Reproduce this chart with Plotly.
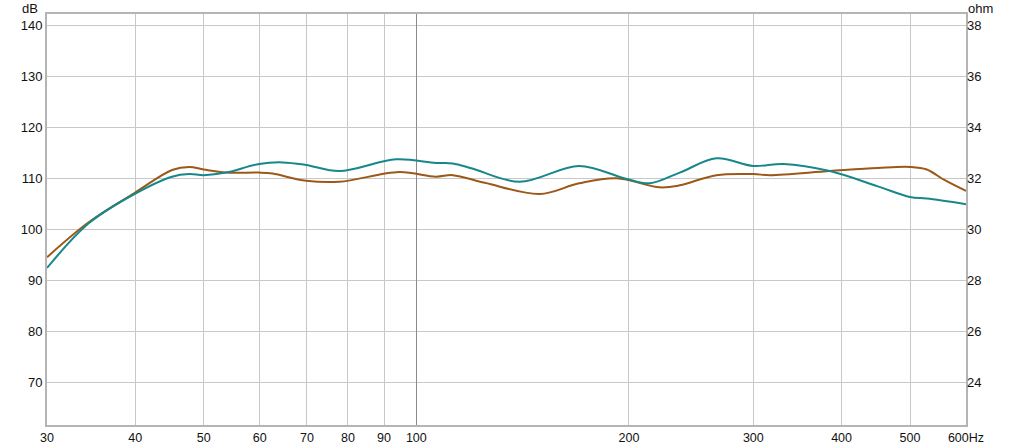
import plotly.graph_objects as go

# ---- data ----
freq_teal = [30, 34.4, 39.9, 45.1, 47.7, 50, 53.8, 59.9, 64.7, 69.8, 77.8, 93.6,
             106.6, 112.6, 120, 140, 170, 198, 214, 236, 266, 300, 331, 385, 450,
             500, 528, 600]
spl_teal = [92.4, 101.2, 106.9, 110.3, 110.8, 110.6, 111.1, 112.8, 113.1, 112.6,
            111.4, 113.7, 113.0, 112.9, 111.9, 109.3, 112.4, 109.9, 109.0, 111.1,
            113.9, 112.4, 112.8, 111.4, 108.4, 106.3, 106.0, 104.9]

freq_orange = [30, 34.4, 39.9, 45.1, 47.7, 50, 53.8, 59.9, 62.6, 69.8, 77.8, 94.6,
               106.6, 112.6, 125, 149.5, 170, 192, 221, 236, 266, 300, 317, 385,
               450, 500, 528, 560, 600]
spl_orange = [94.5, 101.4, 107.1, 111.6, 112.2, 111.7, 111.1, 111.1, 110.9, 109.5,
              109.3, 111.2, 110.3, 110.6, 109.1, 106.9, 109.0, 110.0, 108.2, 108.6,
              110.6, 110.8, 110.6, 111.4, 112.0, 112.2, 111.7, 109.6, 107.5]

x_tickvals = [30, 40, 50, 60, 70, 80, 90, 100, 200, 300, 400, 500, 600]
x_ticktext = ["30", "40", "50", "60", "70", "80", "90", "100", "200", "300", "400", "500", "600Hz"]
db_ticks = [70, 80, 90, 100, 110, 120, 130, 140]
ohm_ticks = [24, 26, 28, 30, 32, 34, 36, 38]

db_range = [61.6, 142.2]
ohm_range = [(db_range[0] - 140) / 5 + 38, (db_range[1] - 140) / 5 + 38]

TEAL = "#17878A"
BROWN = "#9C5818"
GRID = "#c8c8c8"
FONT = "Liberation Sans"

fig = go.Figure()
# invisible trace that makes the overlay axis (darker 100 Hz grid line) render
fig.add_trace(go.Scatter(x=[100], y=[100], xaxis="x2", yaxis="y", mode="markers",
                         marker=dict(opacity=0), showlegend=False, hoverinfo="skip"))
fig.add_trace(go.Scatter(x=freq_orange, y=spl_orange, mode="lines",
                         line=dict(color=BROWN, width=2, shape="spline", smoothing=1),
                         showlegend=False, hoverinfo="skip"))
fig.add_trace(go.Scatter(x=freq_teal, y=spl_teal, mode="lines",
                         line=dict(color=TEAL, width=2, shape="spline", smoothing=1),
                         showlegend=False, hoverinfo="skip"))
# invisible trace to anchor the right (ohm) axis
fig.add_trace(go.Scatter(x=[30], y=[30], xaxis="x", yaxis="y2", mode="markers",
                         marker=dict(opacity=0), showlegend=False, hoverinfo="skip"))

fig.update_layout(
    width=1024, height=447,
    margin=dict(l=47, r=58, t=14, b=22),
    paper_bgcolor="white", plot_bgcolor="white",
    font=dict(family=FONT, size=13, color="#111"),
    hovermode=False,
    xaxis=dict(type="log", range=[1.4771, 2.7782], tickvals=x_tickvals, ticktext=x_ticktext,
               showgrid=True, gridcolor=GRID, gridwidth=1, zeroline=False,
               showline=True, linecolor="#b4b4b4", linewidth=2, mirror=True,
               ticks="", ticklabelstandoff=0, tickfont=dict(size=12.5), automargin=False),
    xaxis2=dict(type="log", range=[1.4771, 2.7782], overlaying="x", tickvals=[100],
                showticklabels=False, showgrid=True, gridcolor="#8a8a8a", gridwidth=1,
                zeroline=False, showline=False, ticks="", automargin=False),
    yaxis=dict(range=db_range, tickvals=db_ticks, showgrid=True, gridcolor=GRID,
               gridwidth=1, zeroline=False, showline=True, linecolor="#b4b4b4",
               linewidth=2, mirror=True, ticks="", automargin=False),
    yaxis2=dict(range=ohm_range, tickvals=ohm_ticks, overlaying="y", side="right",
                showgrid=False, zeroline=False, showline=False, ticks="", automargin=False),
    annotations=[
        dict(text="dB", xref="paper", yref="paper", x=-0.0073, y=1.0, xanchor="right",
             yanchor="bottom", showarrow=False, font=dict(family=FONT, size=13, color="#111"),
             yshift=-4),
        dict(text="ohm", xref="paper", yref="paper", x=1.0, y=1.0, xanchor="left",
             yanchor="bottom", showarrow=False, font=dict(family=FONT, size=13, color="#111"),
             yshift=-4),
    ],
)

fig.write_html("out.html", config={"displayModeBar": False, "staticPlot": True},
               post_script="document.body.style.margin='0';document.body.style.overflow='hidden';")
